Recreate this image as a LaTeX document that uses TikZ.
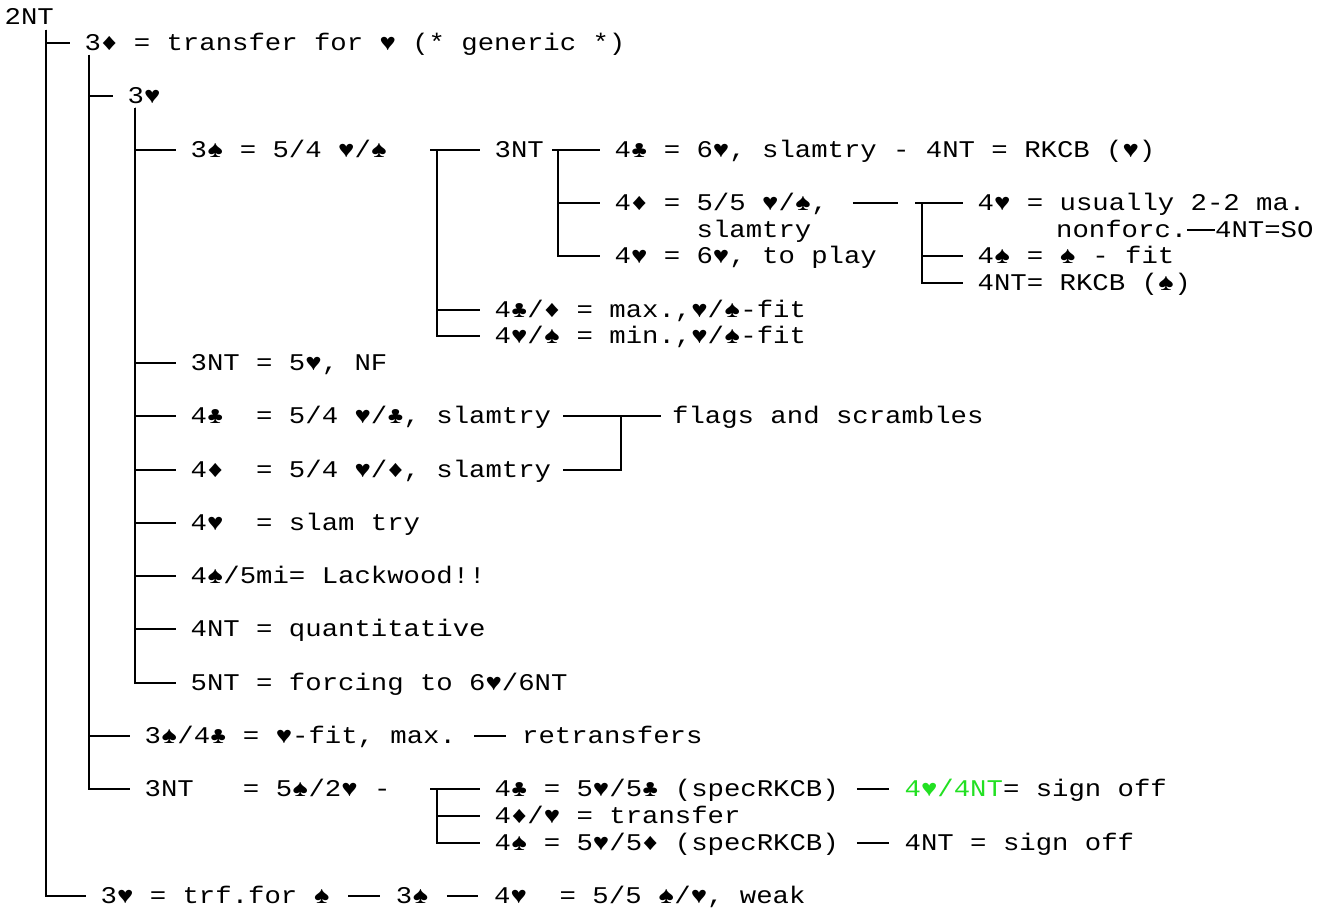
\documentclass[tikz,border=0pt]{standalone}
\usepackage{fontspec}
\setmonofont{Liberation Mono}[FakeStretch=1.14]
\usepackage{xcolor}
\usepackage{tikz}
\usetikzlibrary{calc}
\definecolor{signgreen}{HTML}{22E022}
\newcommand{\bidfont}{\ttfamily\fontsize{23.95pt}{28pt}\selectfont\frenchspacing}
\newcommand{\rowy}[1]{16.5+26.65*#1}

\begin{document}
\begin{tikzpicture}[
  x=1pt, y=-1pt,
  bid/.style={anchor=west, inner sep=0pt, text height=15pt, text depth=0pt, font=\bidfont},
  tree/.style={line width=2pt},
  link/.style={line width=2pt, shorten <=18pt, shorten >=16pt}
]
\useasboundingbox (0,0) rectangle (1331,908);

% bids, top to bottom
\node[bid] (root) at (4.5,{\rowy{0}}) {2NT};
\node[bid] (tdia) at (84.5,{\rowy{1}}) {3♦ = transfer for ♥ (* generic *)};
\node[bid] (hrt) at (127.5,{\rowy{3}}) {3♥};
\node[bid] (spd) at (190.5,{\rowy{5}}) {3♠ = 5/4 ♥/♠};
\node[bid] (ntA) at (494.5,{\rowy{5}}) {3NT};
\node[bid] (clb6) at (614.5,{\rowy{5}}) {4♣ = 6♥, slamtry - 4NT = RKCB (♥)};
\node[bid] (dia55) at (614.5,{\rowy{7}}) {4♦ = 5/5 ♥/♠,};
\node[bid] (dia55b) at (696.5,{\rowy{8}}) {slamtry};
\node[bid] (hrt6) at (614.5,{\rowy{9}}) {4♥ = 6♥, to play};
\node[bid] (hrtus) at (977.5,{\rowy{7}}) {4♥ = usually 2-2 ma.};
\node[bid] (nonf) at (1056,{\rowy{8}}) {nonforc.};
\node[bid] (so) at (1215,{\rowy{8}}) {4NT=SO};
\node[bid] (spfit) at (977.5,{\rowy{9}}) {4♠ = ♠ - fit};
\node[bid] (rkcb) at (977.5,{\rowy{10}}) {4NT= RKCB (♠)};
\node[bid] (maxf) at (494.5,{\rowy{11}}) {4♣/♦ = max.,♥/♠-fit};
\node[bid] (minf) at (494.5,{\rowy{12}}) {4♥/♠ = min.,♥/♠-fit};
\node[bid] (ntB) at (190.5,{\rowy{13}}) {3NT = 5♥, NF};
\node[bid] (clb54) at (190.5,{\rowy{15}}) {4♣~ = 5/4 ♥/♣, slamtry};
\node[bid] (flags) at (672,{\rowy{15}}) {flags and scrambles};
\node[bid] (dia54) at (190.5,{\rowy{17}}) {4♦~ = 5/4 ♥/♦, slamtry};
\node[bid] (hrtst) at (190.5,{\rowy{19}}) {4♥~ = slam try};
\node[bid] (lack) at (190.5,{\rowy{21}}) {4♠/5mi= Lackwood!!};
\node[bid] (quant) at (190.5,{\rowy{23}}) {4NT = quantitative};
\node[bid] (force) at (190.5,{\rowy{25}}) {5NT = forcing to 6♥/6NT};
\node[bid] (fitmax) at (144.5,{\rowy{27}}) {3♠/4♣ = ♥-fit, max.};
\node[bid] (retr) at (522,{\rowy{27}}) {retransfers};
\node[bid] (ntC) at (144.5,{\rowy{29}}) {3NT~~ = 5♠/2♥ -};
\node[bid] (spec1) at (494.5,{\rowy{29}}) {4♣ = 5♥/5♣ (specRKCB)};
\node[bid] (off1) at (904.5,{\rowy{29}}) {\textcolor{signgreen}{4♥/4NT}= sign off};
\node[bid] (trf) at (494.5,{\rowy{30}}) {4♦/♥ = transfer};
\node[bid] (spec2) at (494.5,{\rowy{31}}) {4♠ = 5♥/5♦ (specRKCB)};
\node[bid] (off2) at (904.5,{\rowy{31}}) {4NT = sign off};
\node[bid] (trfs) at (100.5,{\rowy{33}}) {3♥ = trf.for ♠};
\node[bid] (spB) at (395.7,{\rowy{33}}) {3♠};
\node[bid] (weak) at (494,{\rowy{33}}) {4♥~ = 5/5 ♠/♥, weak};

% trunks
\coordinate (trunkA) at ($(root.south west)+(41.5,5.5)$);
\coordinate (trunkB) at ($(tdia.south west)+(4.5,4)$);
\coordinate (trunkC) at ($(hrt.south west)+(7.5,3.5)$);
\draw[tree] (trunkA) |- ([xshift=-15pt]tdia.west);
\draw[tree] (trunkA) |- ([xshift=-15pt]trfs.west);
\draw[tree] (trunkB) |- ([xshift=-15pt]hrt.west);
\draw[tree] (trunkB) |- ([xshift=-15pt]fitmax.west);
\draw[tree] (trunkB) |- ([xshift=-15pt]ntC.west);
\draw[tree] (trunkC) |- ([xshift=-15pt]spd.west);
\draw[tree] (trunkC) |- ([xshift=-15pt]ntB.west);
\draw[tree] (trunkC) |- ([xshift=-15pt]clb54.west);
\draw[tree] (trunkC) |- ([xshift=-15pt]dia54.west);
\draw[tree] (trunkC) |- ([xshift=-15pt]hrtst.west);
\draw[tree] (trunkC) |- ([xshift=-15pt]lack.west);
\draw[tree] (trunkC) |- ([xshift=-15pt]quant.west);
\draw[tree] (trunkC) |- ([xshift=-15pt]force.west);

% brackets
\coordinate (brD) at (437,{\rowy{5}});
\draw[tree] ([xshift=-7pt]brD) -- ([xshift=-15pt]ntA.west);
\draw[tree] (brD) |- ([xshift=-15pt]maxf.west);
\draw[tree] (brD) |- ([xshift=-15pt]minf.west);

\coordinate (brE) at (558,{\rowy{5}});
\draw[tree] ([xshift=-6pt]brE) -- ([xshift=-15pt]clb6.west);
\draw[tree] (brE) |- ([xshift=-15pt]dia55.west);
\draw[tree] (brE) |- ([xshift=-15pt]hrt6.west);

\coordinate (brF) at (922,{\rowy{7}});
\draw[tree] ([xshift=25pt]dia55.east) -- ([xshift=-24pt]brF);
\draw[tree] ([xshift=-7pt]brF) -- ([xshift=-15pt]hrtus.west);
\draw[tree] (brF) |- ([xshift=-15pt]spfit.west);
\draw[tree] (brF) |- ([xshift=-15pt]rkcb.west);
\draw[tree] (nonf.east) -- (so.west);

\coordinate (brG) at (621,{\rowy{15}});
\draw[tree] ([xshift=12pt]clb54.east) -- ([xshift=-11pt]flags.west);
\draw[tree] ([xshift=12pt]dia54.east) -| (brG);

\coordinate (brH) at (437,{\rowy{29}});
\draw[tree] ([xshift=-7pt]brH) -- ([xshift=-15pt]spec1.west);
\draw[tree] (brH) |- ([xshift=-15pt]trf.west);
\draw[tree] (brH) |- ([xshift=-15pt]spec2.west);

% dashes between bids
\draw[link] (fitmax.east) -- (retr.west);
\draw[link] (spec1.east) -- (off1.west);
\draw[link] (spec2.east) -- (off2.west);
\draw[link] (trfs.east) -- (spB.west);
\draw[link] (spB.east) -- (weak.west);
\end{tikzpicture}
\end{document}
